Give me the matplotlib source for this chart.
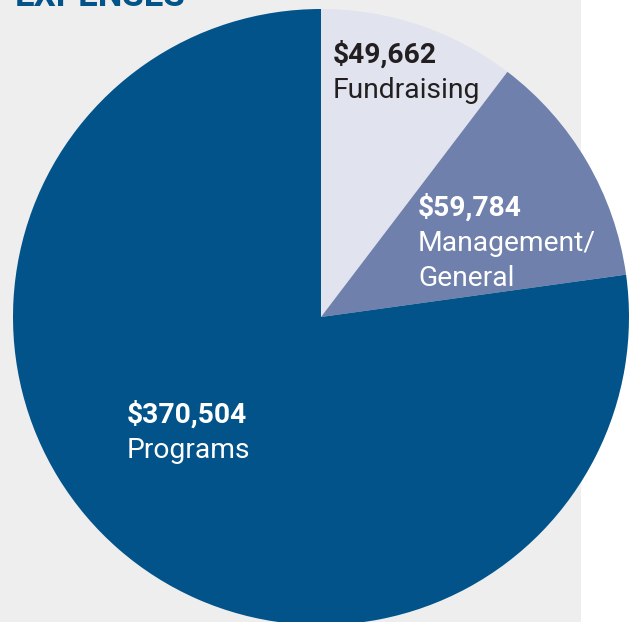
import matplotlib
matplotlib.use("Agg")
import matplotlib.pyplot as plt
from matplotlib.patches import Rectangle

# Dữ liệu chi phí
categories = ["Fundraising", "Management/\nGeneral", "Programs"]
amounts = [49662, 59784, 370504]
colors = ["#E1E3EF", "#6E80AB", "#02538A"]

W, H = 633, 622
plt.rcParams['font.family'] = ['Roboto', 'DejaVu Sans']

fig = plt.figure(figsize=(W / 100, H / 100), dpi=100)
fig.patch.set_facecolor("white")
ax = fig.add_axes([0, 0, 1, 1])

# Nền xám phía sau biểu đồ
ax.add_patch(Rectangle((0, 0), 581, H, facecolor="#EEEEEE", edgecolor="none", zorder=0))

ax.pie(amounts, colors=colors, startangle=90, counterclock=False,
       radius=308, center=(321, H - 317),
       wedgeprops=dict(linewidth=0), frame=True)

ax.set_xlim(0, W)
ax.set_ylim(0, H)
ax.set_aspect("equal")
ax.axis("off")

# Tiêu đề (bị cắt ở mép trên, như bản gốc)
ax.text(15, H - 6, "EXPENSES", color="#02538A", fontsize=25, fontweight="bold",
        ha="left", va="baseline")

# Nhãn các phần
label_specs = [
    (0, 333, 63, "#231F20"),
    (1, 418, 216, "white"),
    (2, 127, 423, "white"),
]
for idx, x, y0, col in label_specs:
    ax.text(x, H - y0, f"${amounts[idx]:,}", color=col, fontsize=20.3,
            fontweight="bold", ha="left", va="baseline")
    for j, line in enumerate(categories[idx].split("\n")):
        ax.text(x, H - y0 - 35 * (j + 1), line, color=col, fontsize=20.3,
                ha="left", va="baseline")

fig.savefig("out.png", dpi=100)
